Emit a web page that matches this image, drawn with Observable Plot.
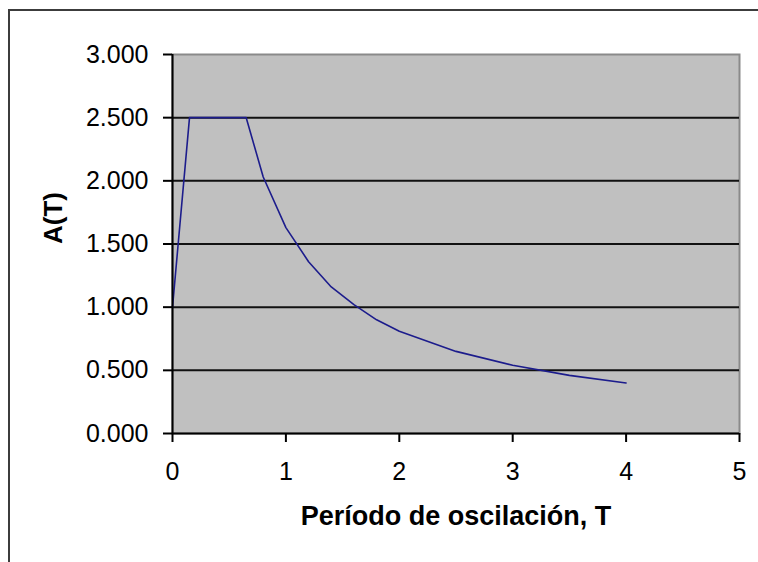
<!DOCTYPE html>
<html>
<head>
<meta charset="utf-8">
<script src="https://cdn.jsdelivr.net/npm/d3@7"></script>
<script src="https://cdn.jsdelivr.net/npm/@observablehq/plot@0.6"></script>
<style>
  html, body { margin: 0; padding: 0; background: #fff; overflow: hidden; }
  #chart { position: relative; width: 758px; height: 562px; }
  #chart svg { position: absolute; left: 0; top: 0; }
  #border {
    position: absolute; left: 8px; top: 9px; width: 900px; height: 900px;
    border-left: 2px solid #3c3c3c; border-top: 2px solid #3c3c3c;
    pointer-events: none;
  }
</style>
</head>
<body>
<div id="chart"><div id="border"></div></div>
<script>
// Spectral acceleration A(T) against oscillation period T
const periods = [0, 0.15, 0.65, 0.8, 1.0, 1.2, 1.4, 1.6, 1.8, 2.0, 2.5, 3.0, 3.5, 4.0];
const accel   = [1.0, 2.5, 2.5, 2.03, 1.63, 1.36, 1.16, 1.02, 0.90, 0.81, 0.65, 0.54, 0.46, 0.40];
const yTicks = [0, 0.5, 1.0, 1.5, 2.0, 2.5, 3.0];
const xTicks = [0, 1, 2, 3, 4, 5];
const gridValues = [0.5, 1.0, 1.5, 2.0, 2.5];
const xTitle = "Período de oscilación, T";
const yTitle = "A(T)";

const spectrum = periods.map((t, i) => ({T: t, A: accel[i]}));

const chart = Plot.plot({
  width: 758,
  height: 562,
  marginLeft: 172,
  marginRight: 19,
  marginTop: 54,
  marginBottom: 129,
  style: {fontFamily: "'Liberation Sans', Arial, sans-serif", background: "transparent", color: "#000"},
  x: {domain: [0, 5]},
  y: {domain: [0, 3]},
  marks: [
    Plot.frame({fill: "#c0c0c0", stroke: "#8a8a8a", strokeWidth: 2}),
    Plot.ruleY(gridValues, {stroke: "#111", strokeWidth: 2}),
    Plot.line(spectrum, {x: "T", y: "A", stroke: "#1c1c8c", strokeWidth: 1.6}),
    Plot.ruleX([0], {stroke: "#000", strokeWidth: 2}),
    Plot.ruleY([0], {stroke: "#000", strokeWidth: 2}),
    Plot.axisY(yTicks, {tickFormat: d => d.toFixed(3), tickSize: 9, tickPadding: 15, fontSize: 25, stroke: "#000", strokeWidth: 2, label: null}),
    Plot.axisX(xTicks, {tickFormat: d => String(d), tickSize: 9, tickPadding: 20, fontSize: 25, stroke: "#000", strokeWidth: 2, label: null}),
    Plot.text([xTitle], {frameAnchor: "bottom", dy: 91, fontSize: 27, fontWeight: "bold", fill: "#000"}),
    Plot.text([yTitle], {frameAnchor: "left", dx: -119, rotate: -90, fontSize: 26, fontWeight: "bold", fill: "#000"})
  ]
});

const holder = document.getElementById("chart");
holder.insertBefore(chart, holder.firstChild);
</script>
</body>
</html>
